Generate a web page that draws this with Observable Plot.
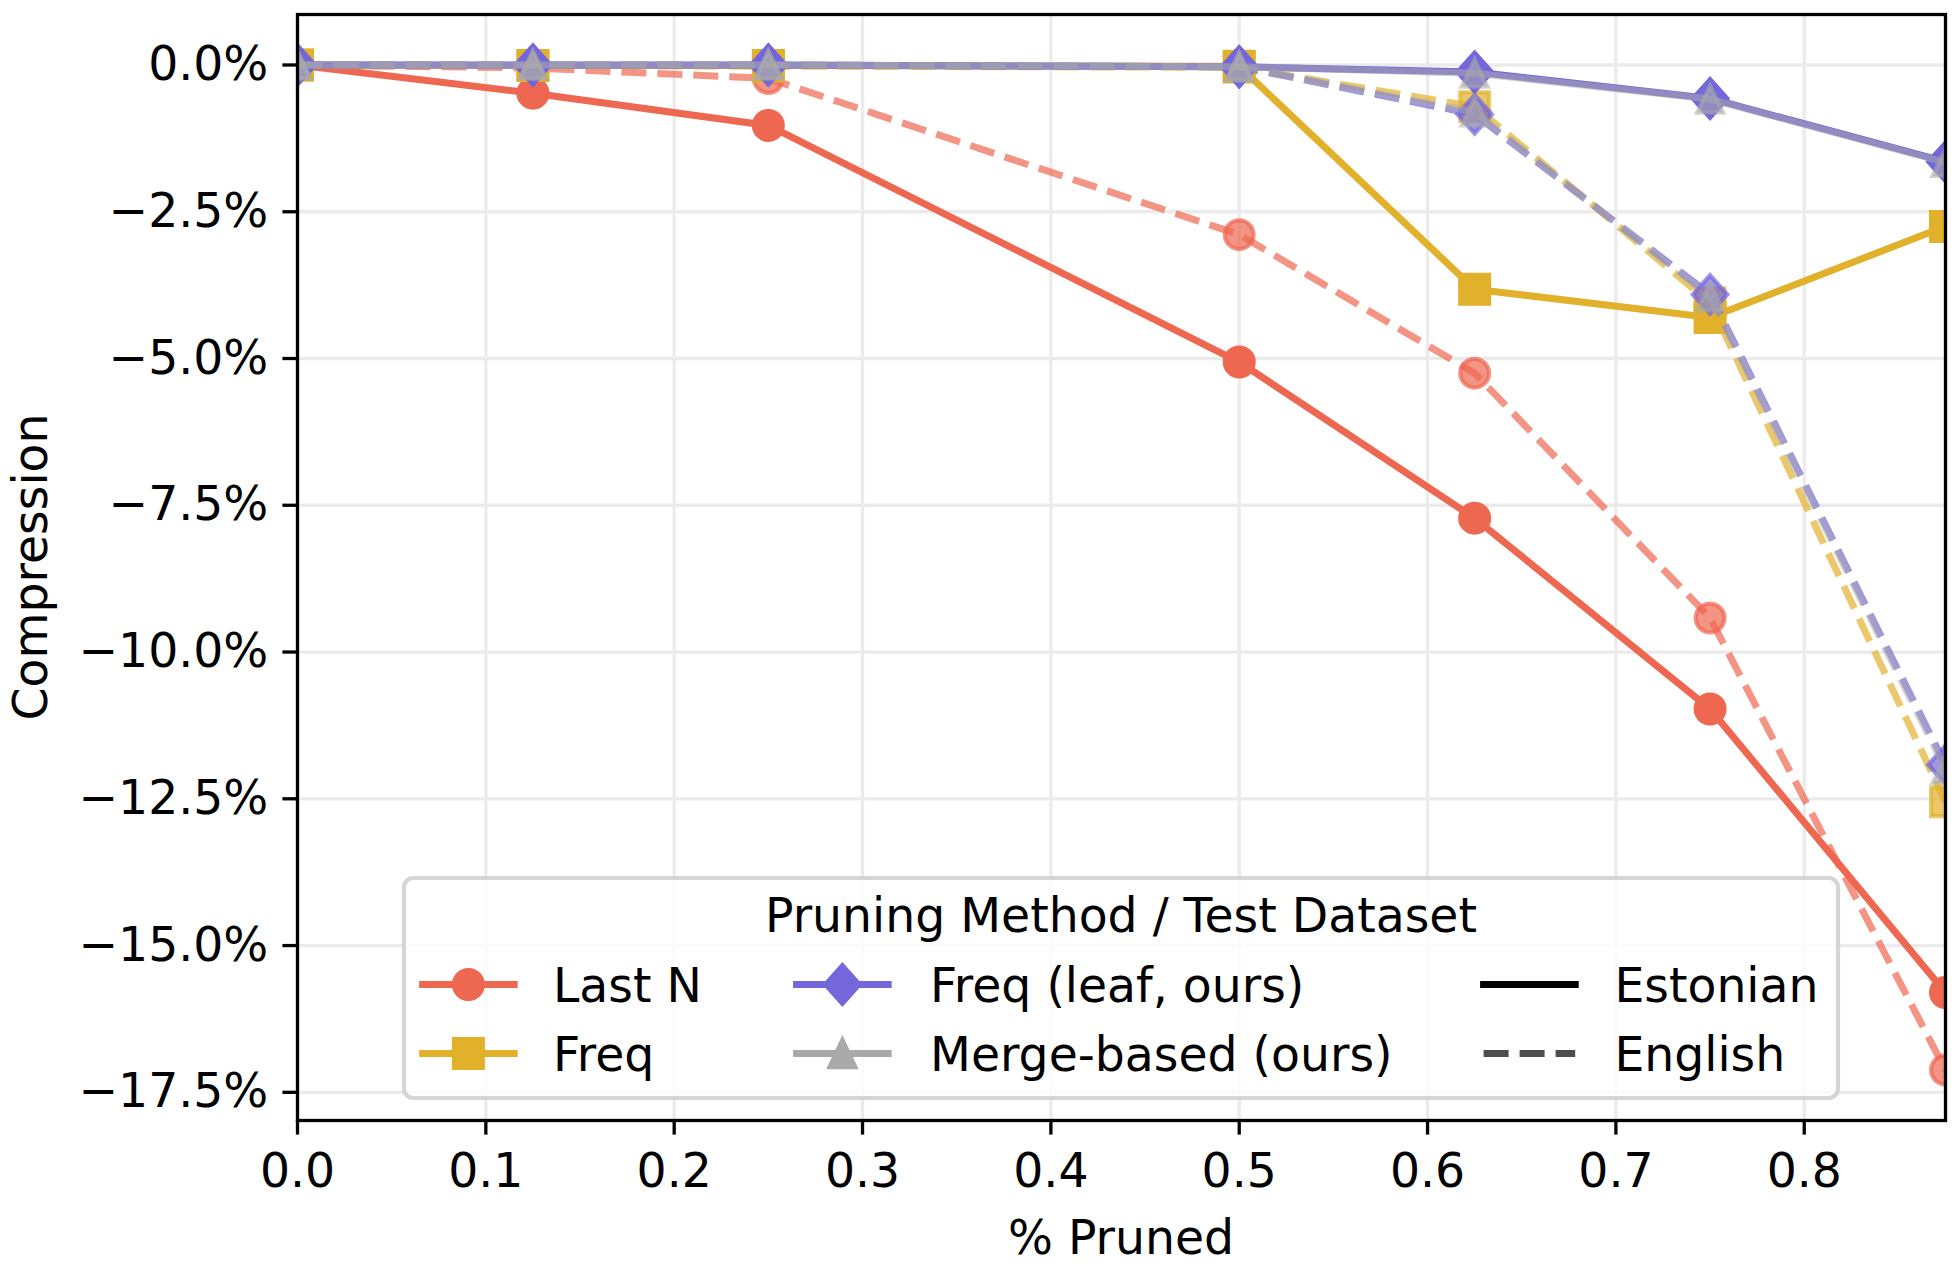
<!DOCTYPE html>
<html>
<head>
<meta charset="utf-8">
<script src="https://cdn.jsdelivr.net/npm/d3@7"></script>
<script src="https://cdn.jsdelivr.net/npm/@observablehq/plot@0.6"></script>
<style>
  html, body { margin: 0; padding: 0; background: #ffffff; overflow: hidden; }
  #chart svg { display: block; }
</style>
</head>
<body>
<div id="chart"></div>
<script>
// Fraction of the vocabulary pruned
const pruned = [0, 0.125, 0.25, 0.5, 0.625, 0.75, 0.875];

// Compression change (%) per pruning method, Estonian test set
const lastNEstonian = [0, -0.48, -1.03, -5.06, -7.72, -10.97, -15.80];
const freqEstonian  = [0, -0.01, -0.01, -0.02, -3.82, -4.30, -2.75];
const leafEstonian  = [0, 0.00, 0.00, -0.03, -0.12, -0.57, -1.65];
const mergeEstonian = [0, 0.00, 0.00, -0.03, -0.14, -0.58, -1.66];

// Compression change (%) per pruning method, English test set
const lastNEnglish = [0, -0.05, -0.23, -2.89, -5.25, -9.42, -17.12];
const freqEnglish  = [0, -0.01, -0.02, -0.04, -0.71, -4.05, -12.55];
const leafEnglish  = [0, 0.00, 0.00, -0.03, -0.84, -3.91, -11.92];
const mergeEnglish = [0, 0.00, 0.00, -0.03, -0.80, -3.95, -12.00];

const methods = ["Last N", "Freq", "Freq (leaf, ours)", "Merge-based (ours)"];
const datasets = ["Estonian", "English"];

const xTicks = [0, 0.1, 0.2, 0.3, 0.4, 0.5, 0.6, 0.7, 0.8];
const yTicks = [-17.5, -15, -12.5, -10, -7.5, -5, -2.5, 0];

// ---- styling ----
const FONT = "DejaVu Sans";
const FS = 47.3;
const LW = 7;
const DASH = "25,11";
const methodColor = {
  "Last N": "#EE6751",
  "Freq": "#E1B12C",
  "Freq (leaf, ours)": "#7367DB",
  "Merge-based (ours)": "#A9A9A9"
};
const opacity = {
  "Estonian": {"Last N": 1, "Freq": 1, "Freq (leaf, ours)": 1, "Merge-based (ours)": 0.55},
  "English":  {"Last N": 0.7, "Freq": 0.7, "Freq (leaf, ours)": 0.7, "Merge-based (ours)": 0.5}
};

// marker shapes, scaled from the dot radius
const rad = size => Math.sqrt(size / Math.PI);
const shapes = {
  circle: {draw(ctx, size) { const r = rad(size); ctx.moveTo(r, 0); ctx.arc(0, 0, r, 0, 2 * Math.PI); ctx.closePath(); }},
  square: {draw(ctx, size) { const r = rad(size); ctx.rect(-r, -r, 2 * r, 2 * r); }},
  diamond: {draw(ctx, size) {
    const r = rad(size), w = 1.2 * r, h = 1.34 * r;
    ctx.moveTo(0, -h); ctx.lineTo(w, 0); ctx.lineTo(0, h); ctx.lineTo(-w, 0); ctx.closePath();
  }},
  triangle: {draw(ctx, size) {
    const r = rad(size), w = 0.9 * r, h = 0.94 * r;
    ctx.moveTo(0, -h); ctx.lineTo(w, h); ctx.lineTo(-w, h); ctx.closePath();
  }}
};
const methodShape = {
  "Last N": shapes.circle,
  "Freq": shapes.square,
  "Freq (leaf, ours)": shapes.diamond,
  "Merge-based (ours)": shapes.triangle
};
const MR = 14.4;

// ---- table ----
const seriesValues = {
  "Last N": {Estonian: lastNEstonian, English: lastNEnglish},
  "Freq": {Estonian: freqEstonian, English: freqEnglish},
  "Freq (leaf, ours)": {Estonian: leafEstonian, English: leafEnglish},
  "Merge-based (ours)": {Estonian: mergeEstonian, English: mergeEnglish}
};

const seriesMarks = [];
for (const m of methods) {
  for (const d of datasets) {
    const rows = pruned.map((p, i) => ({pruned: p, value: seriesValues[m][d][i]}));
    const op = opacity[d][m];
    const dashed = d === "English";
    seriesMarks.push(Plot.line(rows, {
      x: "pruned", y: "value",
      stroke: methodColor[m], strokeWidth: LW, strokeOpacity: op,
      strokeDasharray: dashed ? DASH : null,
      strokeLinecap: dashed ? "butt" : "square",
      strokeLinejoin: "round",
      clip: true
    }));
    seriesMarks.push(Plot.dot(rows, {
      x: "pruned", y: "value",
      symbol: methodShape[m], r: MR,
      fill: methodColor[m], fillOpacity: op,
      stroke: methodColor[m], strokeOpacity: op, strokeWidth: 4.2,
      strokeLinejoin: "miter",
      clip: true
    }));
  }
}

const pct = d => (d < 0 ? "\u2212" : "") + Math.abs(d).toFixed(1) + "%";

const chart = Plot.plot({
  width: 1958,
  height: 1268,
  marginLeft: 297,
  marginRight: 13,
  marginTop: 14,
  marginBottom: 148,
  style: {fontFamily: FONT, fontSize: FS + "px", background: "#ffffff", color: "#000000", overflow: "visible"},
  x: {domain: [0, 0.875]},
  y: {domain: [-17.98, 0.86]},
  marks: [
    Plot.gridX(xTicks, {stroke: "#ebebeb", strokeOpacity: 1, strokeWidth: 3.3}),
    Plot.gridY(yTicks, {stroke: "#ebebeb", strokeOpacity: 1, strokeWidth: 3.3}),
    ...seriesMarks,
    Plot.axisX(xTicks, {tickSize: 14.6, tickPadding: 18, tickFormat: d => d.toFixed(1), strokeWidth: 3.3, label: null, fontSize: FS}),
    Plot.axisY(yTicks, {tickSize: 14.6, tickPadding: 14.6, tickFormat: pct, strokeWidth: 3.3, label: null, fontSize: FS}),
    Plot.frame({stroke: "#000000", strokeWidth: 3.3})
  ]
});
document.getElementById("chart").appendChild(chart);

// ---- axis titles and legend, placed from the frame ----
const svg = d3.select(chart);
const [x0, x1] = chart.scale("x").range;
const [yBottom, yTop] = chart.scale("y").range;
const cx = (x0 + x1) / 2;

svg.append("text")
  .attr("x", cx).attr("y", yBottom + 134)
  .attr("text-anchor", "middle")
  .attr("font-family", FONT).attr("font-size", FS)
  .attr("fill", "#000")
  .text("% Pruned");

svg.append("text")
  .attr("transform", `translate(47,${(yBottom + yTop) / 2}) rotate(-90)`)
  .attr("text-anchor", "middle")
  .attr("font-family", FONT).attr("font-size", FS)
  .attr("fill", "#000")
  .text("Compression");

const legendEntries = [
  {label: "Last N", kind: "method", col: 0, row: 0},
  {label: "Freq", kind: "method", col: 0, row: 1},
  {label: "Freq (leaf, ours)", kind: "method", col: 1, row: 0},
  {label: "Merge-based (ours)", kind: "method", col: 1, row: 1},
  {label: "Estonian", kind: "dataset", col: 2, row: 0},
  {label: "English", kind: "dataset", col: 2, row: 1}
];

const boxW = 1434, boxH = 220;
const bx = cx - boxW / 2;
const by = yBottom - 22 - boxH;
const lg = svg.append("g").attr("font-family", FONT).attr("font-size", FS);

lg.append("rect")
  .attr("x", bx).attr("y", by).attr("width", boxW).attr("height", boxH)
  .attr("rx", 9.2).attr("ry", 9.2)
  .attr("fill", "#ffffff").attr("fill-opacity", 0.8)
  .attr("stroke", "#cccccc").attr("stroke-opacity", 0.8).attr("stroke-width", 4.2);

lg.append("text")
  .attr("x", cx).attr("y", by + 54)
  .attr("text-anchor", "middle").attr("fill", "#000")
  .text("Pruning Method / Test Dataset");

const colHandle = [64.4, 438.4, 1125.4];
const colText = [149, 526.1, 1210.4];
const rowMid = [106.5, 175.5];
const halfLen = 45.8;

for (const e of legendEntries) {
  const hx = bx + colHandle[e.col];
  const hy = by + rowMid[e.row];
  if (e.kind === "method") {
    const c = methodColor[e.label];
    lg.append("line")
      .attr("x1", hx - halfLen).attr("x2", hx + halfLen).attr("y1", hy).attr("y2", hy)
      .attr("stroke", c).attr("stroke-width", LW).attr("stroke-linecap", "square");
    const sym = d3.symbol(methodShape[e.label], Math.PI * MR * MR);
    lg.append("path")
      .attr("transform", `translate(${hx},${hy})`)
      .attr("d", sym())
      .attr("fill", c).attr("stroke", c).attr("stroke-width", 4.2).attr("stroke-linejoin", "miter");
  } else {
    const dashed = e.label === "English";
    lg.append("line")
      .attr("x1", hx - halfLen).attr("x2", hx + halfLen).attr("y1", hy).attr("y2", hy)
      .attr("stroke", dashed ? "#4d4d4d" : "#000000").attr("stroke-width", LW)
      .attr("stroke-dasharray", dashed ? DASH : null)
      .attr("stroke-linecap", dashed ? "butt" : "square");
  }
  lg.append("text")
    .attr("x", bx + colText[e.col]).attr("y", hy + 17)
    .attr("text-anchor", "start")
    .attr("fill", "#000")
    .text(e.label);
}
</script>
</body>
</html>
